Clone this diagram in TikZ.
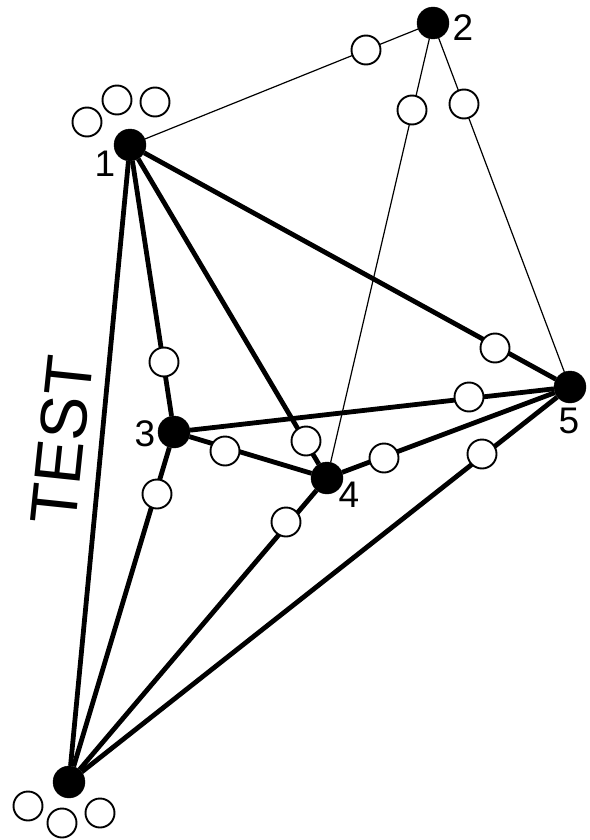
\documentclass[tikz,border=0pt]{standalone}
\usepackage{fontspec}
\setmainfont{Liberation Sans}
\begin{document}
\begin{tikzpicture}[x=1pt,y=-1pt,
  vertex/.style={circle,fill=black,draw=black,minimum size=32pt,inner sep=0pt},
  port/.style={circle,fill=white,draw=black,line width=1.9pt,minimum size=29pt,inner sep=0pt},
  heavy/.style={line width=4.8pt},
  light/.style={line width=1.2pt},
  lbl/.style={font=\fontsize{37}{37}\selectfont,inner sep=0pt}]
\useasboundingbox (0,0) rectangle (589,840);
% vertices
\node[vertex] (v1) at (130,145) {};
\node[vertex] (v2) at (433,23) {};
\node[vertex] (v3) at (174,432) {};
\node[vertex] (v4) at (327,478) {};
\node[vertex] (v5) at (570,387) {};
\node[vertex] (v6) at (69,782) {};
% edges
\draw[light] (v1) -- (v2);
\draw[light] (v2) -- (v4);
\draw[light] (v2) -- (v5);
\draw[heavy] (v1) -- (v3);
\draw[heavy] (v1) -- (v4);
\draw[heavy] (v1) -- (v5);
\draw[heavy] (v1) -- (v6);
\draw[heavy] (v3) -- (v4);
\draw[heavy] (v3) -- (v5);
\draw[heavy] (v3) -- (v6);
\draw[heavy] (v4) -- (v5);
\draw[heavy] (v4) -- (v6);
\draw[heavy] (v6) -- (v5);
% ports on the edges
\node[port] (p12) at (366,50) {};
\node[port] (p24) at (412,110) {};
\node[port] (p25) at (464,104) {};
\node[port] (p13) at (164,362) {};
\node[port] (p36) at (157,494) {};
\node[port] (p34) at (225,451) {};
\node[port] (p14) at (306,441) {};
\node[port] (p45) at (384,458) {};
\node[port] (p46) at (286,522) {};
\node[port] (p15) at (495,348) {};
\node[port] (p35) at (469,397) {};
\node[port] (p65) at (482,454) {};
% free ports near vertices 1 and 6
\node[port] (pa1) at (87,122) {};
\node[port] (pa2) at (117,100) {};
\node[port] (pa3) at (155,102) {};
\node[port] (pb1) at (28,806) {};
\node[port] (pb2) at (62,823) {};
\node[port] (pb3) at (100,813) {};
% vertex labels
\node[lbl] (l1) at (105,164) {1};
\node[lbl] (l2) at (463,28) {2};
\node[lbl] (l3) at (145,434) {3};
\node[lbl] (l4) at (349,495) {4};
\node[lbl] (l5) at (569,421) {5};
% caption along the edge 1--6
\node[font=\fontsize{66}{66}\selectfont,inner sep=0pt,rotate=84] (cap) at (62,440) {TEST};
\end{tikzpicture}
\end{document}
